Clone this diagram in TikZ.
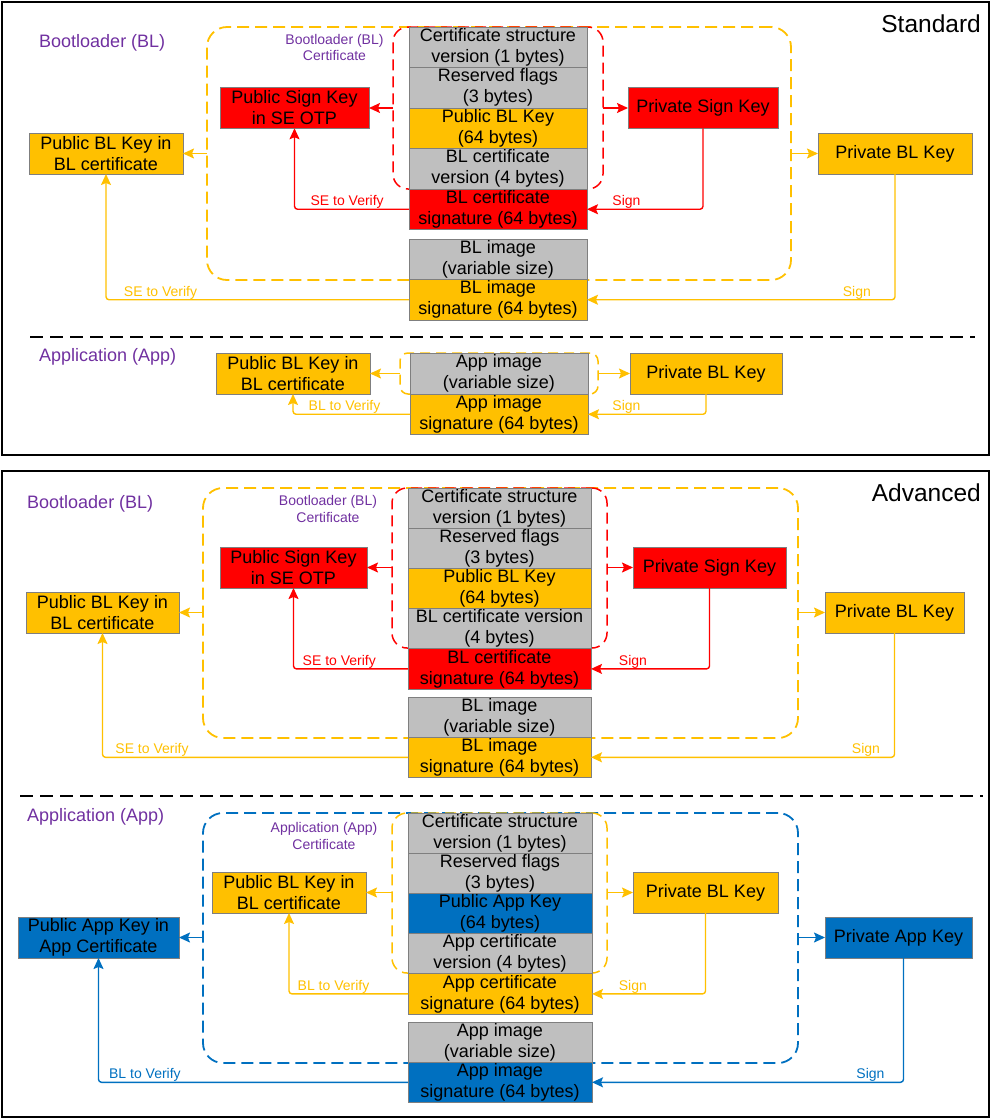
\documentclass[tikz,border=0pt]{standalone}
\usepackage{fontspec}
\setmainfont{Liberation Sans}
\usepackage{xcolor}
\definecolor{corange}{RGB}{255,192,0}
\definecolor{cred}{RGB}{255,0,0}
\definecolor{cblue}{RGB}{0,112,192}
\definecolor{cgray}{RGB}{191,191,191}
\definecolor{boxline}{RGB}{127,127,127}
\definecolor{cpurple}{RGB}{112,48,160}
\usepackage{tikz}
\usetikzlibrary{arrows.meta, positioning}

\begin{document}
\begin{tikzpicture}[x=1pt, y=-1pt,
  box/.style={draw=boxline, line width=0.8pt, inner sep=0pt, outer sep=0pt,
    align=center, font=\fontsize{18}{21}\selectfont, minimum height=40.5pt},
  gbox/.style={box, fill=cgray},
  obox/.style={box, fill=corange},
  rbox/.style={box, fill=cred},
  bbox/.style={box, fill=cblue},
  certbox/.style={line width=1.8pt, dash pattern=on 12pt off 6pt, rounded corners=20pt,
    inner sep=0pt, outer sep=0pt},
  subcert/.style={certbox, line width=1.5pt, dash pattern=on 11pt off 6pt, rounded corners=15pt},
  certlbl/.style={font=\fontsize{14}{16.5}\selectfont, text=cpurple, align=center, inner sep=0pt},
  sectitle/.style={font=\fontsize{18}{21}\selectfont, text=cpurple, anchor=base west, inner sep=0pt},
  bigtitle/.style={font=\fontsize{24.5}{28}\selectfont, anchor=base east, inner sep=0pt},
  arr/.style={-{Stealth[length=11pt, width=10pt, inset=2pt]}, line width=1.4pt, rounded corners=3pt},
  lbl/.style={font=\fontsize{14}{16}\selectfont, above, inner sep=0pt},
  sepline/.style={line width=2pt, dash pattern=on 13pt off 7pt},
  outerframe/.style={line width=2.5pt}]
  \useasboundingbox (0,0) rectangle (991,1120);
  % 外框
  \draw[outerframe] (2,2) rectangle (989,455);
  \draw[outerframe] (2,471) rectangle (989,1117);

  % Standard: Bootloader
  \node[bigtitle] (stdname) at (981,32) {Standard};
  \node[sectitle] (sbl) at (39,47) {Bootloader (BL)};
  \node[certbox, draw=corange, minimum width=584pt, minimum height=253pt] (sblc) at (499,153.5) {};
  \node[subcert, draw=cred, minimum width=210pt, minimum height=162pt] (scert) at (498,108) {};
  \node[certlbl] (scl) at (334.5,47.5) {Bootloader (BL)\\Certificate};
  \begin{scope}[box/.append style={minimum width=178pt}]
    \node[gbox] (s1) at (498,47.25) {Certificate structure\\version (1 bytes)};
    \node[gbox, below=0pt of s1] (s2) {Reserved flags\\(3 bytes)};
    \node[obox, below=0pt of s2] (s3) {Public BL Key\\(64 bytes)};
    \node[gbox, below=0pt of s3] (s4) {BL certificate\\version (4 bytes)};
    \node[rbox, below=0pt of s4] (s5) {BL certificate\\signature (64 bytes)};
    \node[gbox, below=9.5pt of s5] (simg) {BL image\\(variable size)};
    \node[obox, below=0pt of simg] (ssig) {BL image\\signature (64 bytes)};
  \end{scope}
  \node[rbox, minimum width=149pt] (spsk) at (294.5,108) {Public Sign Key\\in SE OTP};
  \node[obox, minimum width=154pt, minimum height=41pt] (spbk) at (106,153.5) {Public BL Key in\\BL certificate};
  \node[rbox, minimum width=150pt] (sprs) at (703,108) {Private Sign Key};
  \node[obox, minimum width=154pt, minimum height=41pt] (sprb) at (895,153.5) {Private BL Key};
  \draw[arr, cred] (scert.west |- spsk.east) -- (spsk.east);
  \draw[arr, cred] (scert.east |- sprs.west) -- (sprs.west);
  \draw[arr, corange] (sblc.west |- spbk.east) -- (spbk.east);
  \draw[arr, corange] (sblc.east |- sprb.west) -- (sprb.west);
  \draw[arr, cred] (s5.west) -| node[lbl, pos=0.27] {SE to Verify} (spsk.south);
  \draw[arr, cred] (sprs.south) |- node[lbl, pos=0.83] {Sign} (s5.east);
  \draw[arr, corange] (ssig.west) -| node[lbl, pos=0.41] {SE to Verify} (spbk.south);
  \draw[arr, corange] (sprb.south) |- node[lbl, pos=0.562] {Sign} (ssig.east);

  % Standard: Application
  \draw[sepline] (30,337) -- (975,337);
  \node[sectitle] (sapp) at (39,361) {Application (App)};
  \node[certbox, draw=corange, line width=1.5pt, rounded corners=8pt, dash pattern=on 10pt off 6pt,
    minimum width=198pt, minimum height=41pt] (sac) at (499,373.5) {};
  \node[gbox, minimum width=178pt, minimum height=41pt] (aimg) at (499,373.5) {App image\\(variable size)};
  \node[obox, minimum width=178pt, below=0pt of aimg] (asig) {App image\\signature (64 bytes)};
  \node[obox, minimum width=154pt, minimum height=41pt] (apbk) at (293,373.5) {Public BL Key in\\BL certificate};
  \node[obox, minimum width=152pt, minimum height=41pt] (aprb) at (706,373.5) {Private BL Key};
  \draw[arr, corange] (sac.west |- apbk.east) -- (apbk.east);
  \draw[arr, corange] (sac.east |- aprb.west) -- (aprb.west);
  \draw[arr, corange] (asig.west) -| node[lbl, pos=0.28] {BL to Verify} (apbk.south);
  \draw[arr, corange] (aprb.south) |- node[lbl, pos=0.837] {Sign} (asig.east);

  % Advanced: Bootloader
  \node[bigtitle] (advname) at (981,501) {Advanced};
  \node[sectitle] (bbl) at (27,508) {Bootloader (BL)};
  \node[certbox, draw=corange, minimum width=595pt, minimum height=250pt] (bblc) at (500.5,613) {};
  \node[subcert, draw=cred, minimum width=215pt, minimum height=160pt] (bcert) at (499.5,568) {};
  \node[certlbl] (bcl) at (328,509) {Bootloader (BL)\\Certificate};
  \begin{scope}[box/.append style={minimum width=183pt, minimum height=40.2pt}]
    \node[gbox] (b1) at (499.5,508.1) {Certificate structure\\version (1 bytes)};
    \node[gbox, below=0pt of b1] (b2) {Reserved flags\\(3 bytes)};
    \node[obox, below=0pt of b2] (b3) {Public BL Key\\(64 bytes)};
    \node[gbox, below=0pt of b3] (b4) {BL certificate version\\(4 bytes)};
    \node[rbox, below=0pt of b4] (b5) {BL certificate\\signature (64 bytes)};
    \node[gbox, below=8pt of b5] (bimg) {BL image\\(variable size)};
    \node[obox, below=0pt of bimg] (bsig) {BL image\\signature (64 bytes)};
  \end{scope}
  \node[rbox, minimum width=147pt, minimum height=41pt] (bpsk) at (293.5,567.5) {Public Sign Key\\in SE OTP};
  \node[obox, minimum width=153pt, minimum height=41pt] (bpbk) at (102.5,612.5) {Public BL Key in\\BL certificate};
  \node[rbox, minimum width=153pt, minimum height=41pt] (bprs) at (709.5,567.5) {Private Sign Key};
  \node[obox, minimum width=139pt, minimum height=41pt] (bprb) at (894.5,612.5) {Private BL Key};
  \draw[arr, cred] (bcert.west |- bpsk.east) -- (bpsk.east);
  \draw[arr, cred] (bcert.east |- bprs.west) -- (bprs.west);
  \draw[arr, corange] (bblc.west |- bpbk.east) -- (bpbk.east);
  \draw[arr, corange] (bblc.east |- bprb.west) -- (bprb.west);
  \draw[arr, cred] (b5.west) -| node[lbl, pos=0.3] {SE to Verify} (bpsk.south);
  \draw[arr, cred] (bprs.south) |- node[lbl, pos=0.823] {Sign} (b5.east);
  \draw[arr, corange] (bsig.west) -| node[lbl, pos=0.419] {SE to Verify} (bpbk.south);
  \draw[arr, corange] (bprb.south) |- node[lbl, pos=0.547] {Sign} (bsig.east);

  % Advanced: Application
  \draw[sepline] (20,796) -- (983,796);
  \node[sectitle] (papp) at (27,821) {Application (App)};
  \node[certbox, draw=cblue, minimum width=595pt, minimum height=250pt] (pac) at (500.5,938) {};
  \node[subcert, draw=corange, minimum width=215pt, minimum height=160pt] (pcert) at (499.5,893) {};
  \node[certlbl] (pcl) at (324,836) {Application (App)\\Certificate};
  \begin{scope}[box/.append style={minimum width=184pt, minimum height=40.2pt}]
    \node[gbox] (p1) at (500,833.1) {Certificate structure\\version (1 bytes)};
    \node[gbox, below=0pt of p1] (p2) {Reserved flags\\(3 bytes)};
    \node[bbox, below=0pt of p2] (p3) {Public App Key\\(64 bytes)};
    \node[gbox, below=0pt of p3] (p4) {App certificate\\version (4 bytes)};
    \node[obox, below=0pt of p4] (p5) {App certificate\\signature (64 bytes)};
    \node[gbox, below=8pt of p5] (pimg) {App image\\(variable size)};
    \node[bbox, below=0pt of pimg] (psig) {App image\\signature (64 bytes)};
  \end{scope}
  \node[obox, minimum width=154pt, minimum height=41pt] (ppbk) at (289,892.5) {Public BL Key in\\BL certificate};
  \node[bbox, minimum width=161pt, minimum height=41pt] (ppak) at (98.5,937.5) {Public App Key in\\App Certificate};
  \node[obox, minimum width=145pt, minimum height=41pt] (pprb) at (705.5,892.5) {Private BL Key};
  \node[bbox, minimum width=147pt, minimum height=41pt] (ppra) at (898.5,937.5) {Private App Key};
  \draw[arr, corange] (pcert.west |- ppbk.east) -- (ppbk.east);
  \draw[arr, corange] (pcert.east |- pprb.west) -- (pprb.west);
  \draw[arr, cblue] (pac.west |- ppak.east) -- (ppak.east);
  \draw[arr, cblue] (pac.east |- ppra.west) -- (ppra.west);
  \draw[arr, corange] (p5.west) -| node[lbl, pos=0.313] {BL to Verify} (ppbk.south);
  \draw[arr, corange] (pprb.south) |- node[lbl, pos=0.82] {Sign} (p5.east);
  \draw[arr, cblue] (psig.west) -| node[lbl, pos=0.425] {BL to Verify} (ppak.south);
  \draw[arr, cblue] ([xshift=5pt]ppra.south) |- node[lbl, pos=0.553] {Sign} (psig.east);
\end{tikzpicture}
\end{document}
